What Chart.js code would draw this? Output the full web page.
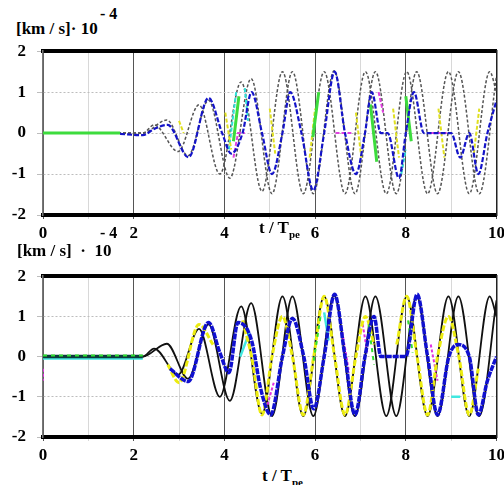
<!DOCTYPE html>
<html>
<head>
<meta charset="utf-8">
<script src="https://cdn.jsdelivr.net/npm/chart.js@4.4.0/dist/chart.umd.min.js"></script>
<style>
  body { margin: 0; background: #fff; width: 504px; height: 485px; position: relative; overflow: hidden;
         font-family: 'Liberation Serif', 'Times New Roman', 'DejaVu Serif', serif; font-weight: bold; color: #000; }
  canvas { position: absolute; left: 0; }
  .lbl { position: absolute; font-size: 17px; white-space: nowrap; }
  .sup { position: absolute; font-size: 16px; white-space: nowrap; }
  .sub { font-size: 11px; position: relative; top: 5px; }
</style>
</head>
<body>
<div class="lbl" style="left:16px; top:19px;">[km / s]· 10</div>
<div class="sup" style="left:100px; top:5px;">- 4</div>
<canvas id="topChart" width="509" height="210" style="top:30px"></canvas>
<div class="lbl" style="left:259px; top:218px;">t / T<span class="sub">pe</span></div>

<div class="lbl" style="left:17px; top:241px;">[km / s] &nbsp;· &nbsp;10</div>
<div class="sup" style="left:100px; top:224px;">- 4</div>
<canvas id="botChart" width="509" height="207" style="top:255px"></canvas>
<div class="lbl" style="left:262px; top:466px;">t / T<span class="sub">pe</span></div>

<script>
// x ticks (t / T_pe) and y ticks
const xTicks = [0, 2, 4, 6, 8, 10];
const yTicks = [-2, -1, 0, 1, 2];

// black curve A (both panels)
const blackA_t = [0, 2.2, 2.45, 2.98, 3.44, 3.9, 4.37, 4.83, 5.28, 5.74, 6.2, 6.66, 7.11, 7.57, 8.02, 8.48, 8.94, 9.4, 9.85, 10];
const blackA_v = [0, 0, 0.2, -0.45, 0.69, -1.0, 1.25, -1.42, 1.5, -1.48, 1.5, -1.48, 1.5, -1.48, 1.5, -1.48, 1.5, -1.48, 1.5, 1.0];
// black curve B (both panels)
const blackB_t = [0, 2.2, 2.73, 3.2, 3.65, 4.12, 4.59, 5.05, 5.5, 5.96, 6.42, 6.88, 7.33, 7.79, 8.24, 8.7, 9.16, 9.62, 10];
const blackB_v = [0, 0, 0.32, -0.55, 0.8, -1.1, 1.33, -1.48, 1.5, -1.48, 1.52, -1.48, 1.5, -1.48, 1.5, -1.48, 1.5, -1.48, 1.4];

// top panel coloured traces
const topBlue_t = [1.7, 2.2, 2.45, 2.75, 3.21, 3.65, 3.95, 4.15, 4.4, 4.6, 4.83, 5.05, 5.28, 5.45, 5.7, 5.96, 6.2, 6.43, 6.66, 6.9, 7.1, 7.25, 7.45, 7.6, 7.85, 8.0, 8.18, 8.4, 8.55, 9.0, 9.2, 9.4, 9.6, 9.8, 10];
const topBlue_v = [-0.02, -0.05, 0.1, 0.2, -0.59, 0.86, 0.0, -0.5, 0.0, 1.0, 0.0, -1.0, 0.0, 1.0, 0.0, -1.4, 0.0, 1.5, 0.0, -1.0, 0.0, 1.0, 0.0, 0.0, -1.1, 0.0, 1.0, 0.0, 0.0, 0.0, -0.6, 0.0, -1.0, 0.0, 0.8];
const topGreen_t = [0, 1.7, 1.8, 4.2, 4.32, 4.4, 5.95, 6.08, 6.15, 7.22, 7.36, 7.45, 8.0, 8.12];
const topGreen_v = [0, 0, null, -0.2, 0.9, null, -0.1, 1.0, null, 0.7, -0.7, null, 0.9, -0.2];
const topYellow_t = [3.0, 3.1, 3.2, 4.02, 4.15, 4.2, 5.0, 5.12, 5.2, 5.88, 6.0, 6.1, 6.9, 7.02, 7.1, 7.72, 7.85, 7.9, 8.72, 8.85, 8.9, 9.5, 9.62];
const topYellow_v = [0.3, 0.0, null, 0.5, -0.4, null, 0.6, -0.5, null, -0.6, 0.6, null, 0.5, -0.6, null, 0.6, -0.6, null, 0.6, -0.6, null, -0.5, 0.6];
const topCyan_t = [4.1, 4.26, 4.3, 4.45, 4.52, 4.6, 7.9, 8.0];
const topCyan_v = [-0.4, 1.0, null, 1.1, 0.3, null, -1.0, -0.4];
const topMagenta_t = [4.2, 4.3, 4.45, 4.5, 6.45, 6.8, 6.9, 7.4, 7.5, 7.6, 8.55, 9.0];
const topMagenta_v = [-0.6, 0.0, 0.0, null, 0.0, 0.0, null, 1.0, 0.5, null, 0.0, 0.0];

// bottom panel coloured traces
const botBlue_t = [2.8, 3.2, 3.65, 3.9, 4.1, 4.3, 4.6, 4.8, 5.02, 5.28, 5.5, 5.75, 5.97, 6.2, 6.43, 6.66, 6.88, 7.1, 7.3, 7.45, 8.0, 8.25, 8.48, 8.7, 8.95, 9.15, 9.4, 9.6, 9.8, 10];
const botBlue_v = [-0.3, -0.62, 0.85, 0.1, -0.4, 0.85, 0.4, -0.8, -1.45, 0.0, 0.95, 0.0, -1.3, 0.0, 1.55, 0.0, -1.45, 0.0, 1.0, 0.0, 0.0, 1.55, 0.0, -1.45, 0.0, 0.3, 0.0, -1.45, -0.6, 0.0];
const botFlat_t = [0, 2.2];
const botFlat_v = [0, 0];
const botYellow_t = [2.75, 3.0, 3.44, 3.75, 4.0, 4.4, 4.6, 4.83, 5.05, 5.28, 5.5, 5.74, 5.97, 6.2, 6.43, 6.66, 6.9, 7.11, 7.3, 7.5, 7.8, 8.02, 8.25, 8.48, 8.7, 8.94, 9.17, 9.4, 9.6];
const botYellow_v = [-0.2, -0.65, 0.8, 0.3, null, 0.9, 0.0, -1.45, 0.0, 1.0, 0.0, -1.45, 0.0, 1.5, 0.0, -1.45, 0.0, 1.0, 0.3, null, 0.3, 1.5, 0.0, -1.45, 0.0, 1.0, 0.0, -1.45, -0.3];
const botGreen_t = [0.0, 2.2, 2.3, 5.97, 6.12, 6.2, 7.18, 7.3, 7.4, 8.05, 8.15];
const botGreen_v = [0.03, 0.03, null, -0.1, 1.0, null, 0.8, -0.2, null, 0.9, 0.1];
const botCyan_t = [0.0, 2.2, 2.3, 4.35, 4.55, 4.6, 6.2, 6.3, 6.4, 9.0, 9.2];
const botCyan_v = [-0.05, -0.05, null, 0.0, 0.6, null, 1.1, 0.4, null, -1.0, -1.0];
const botMagenta_t = [0.0, 0.0, 0.05, 4.95, 5.1, 5.2, 6.6, 6.75, 6.85, 7.05, 7.15, 7.25, 8.55, 8.7];
const botMagenta_v = [-0.3, -0.6, null, -1.2, -0.6, null, 0.6, -0.4, null, 0.8, 0.1, null, 0.3, -0.6];

function pts(ts, vs) {
  return ts.map(function(t, i) { return { x: t, y: vs[i] }; });
}

const tickFont = { family: "'Liberation Serif', 'Times New Roman', 'DejaVu Serif', serif", size: 17, weight: 'bold' };

function line(ts, vs, color, width, dash, order, smooth) {
  return {
    data: pts(ts, vs),
    borderColor: color,
    borderWidth: width,
    borderDash: dash,
    pointRadius: 0,
    cubicInterpolationMode: smooth ? 'monotone' : 'default',
    tension: 0,
    order: order,
    spanGaps: false
  };
}

function panelOptions() {
  return {
    responsive: false,
    animation: false,
    layout: { padding: { top: 2, right: 0, left: 0, bottom: 0 } },
    plugins: { legend: { display: false }, tooltip: { enabled: false } },
    scales: {
      x: {
        type: 'linear', min: 0, max: 10,
        afterBuildTicks: function(s) { s.ticks = [0,1,2,3,4,5,6,7,8,9,10].map(function(v) { return { value: v }; }); },
        ticks: {
          font: tickFont, color: '#000', maxRotation: 0, autoSkip: false, padding: 4,
          callback: function(v) { return xTicks.indexOf(v) >= 0 ? v : ''; }
        },
        grid: {
          color: function(c) { return (c.tick && c.tick.value % 2 === 0) ? '#555' : '#d8d8d8'; },
          lineWidth: 1, tickLength: 4
        },
        border: { color: '#000', width: 4 },
        afterFit: function(s) { s.height = 25; }
      },
      xTop: {
        type: 'linear', position: 'top', min: 0, max: 10,
        ticks: { display: false }, grid: { display: false },
        border: { color: '#000', width: 4 },
        afterFit: function(s) { s.height = 0; }
      },
      y: {
        min: -2, max: 2,
        afterBuildTicks: function(s) { s.ticks = yTicks.map(function(v) { return { value: v }; }); },
        ticks: { font: tickFont, color: '#000', padding: 11 },
        grid: { color: '#bdbdbd', lineWidth: 1, tickLength: 6 },
        border: { color: '#777', width: 1.5, dash: [2, 2] },
        afterFit: function(s) { s.width = 43; }
      },
      yRight: {
        position: 'right', min: -2, max: 2,
        ticks: { display: false }, grid: { display: false },
        border: { color: '#222', width: 1.5 },
        afterFit: function(s) { s.width = 0; }
      }
    }
  };
}

new Chart(document.getElementById('topChart'), {
  type: 'line',
  data: {
    datasets: [
      line(blackA_t, blackA_v, '#555', 1.5, [3, 2], 10, true),
      line(blackB_t, blackB_v, '#555', 1.5, [3, 2], 10, true),
      line(topBlue_t, topBlue_v, '#1414c8', 2.2, [5, 2], 1, true),
      line(topGreen_t, topGreen_v, '#3ddc3d', 3, [], 3, false),
      line(topYellow_t, topYellow_v, '#e0e020', 2, [4, 2], 4, false),
      line(topCyan_t, topCyan_v, '#30e0d8', 2, [4, 2], 4, false),
      line(topMagenta_t, topMagenta_v, '#e040e0', 2, [4, 2], 4, false)
    ]
  },
  options: panelOptions()
});

new Chart(document.getElementById('botChart'), {
  type: 'line',
  data: {
    datasets: [
      line(blackA_t, blackA_v, '#111', 1.8, [], 10, true),
      line(blackB_t, blackB_v, '#111', 1.8, [], 10, true),
      line(botBlue_t, botBlue_v, '#1010d0', 3.5, [6, 1], 1, true),
      line(botFlat_t, botFlat_v, '#0c3c3c', 3.5, [], 2, false),
      line(botYellow_t, botYellow_v, '#ecec10', 3, [6, 2], 2, true),
      line(botGreen_t, botGreen_v, '#30e030', 2, [4, 4], 1, false),
      line(botCyan_t, botCyan_v, '#40e8e0', 2.5, [], 3, false),
      line(botMagenta_t, botMagenta_v, '#e030e0', 2, [3, 2], 4, false)
    ]
  },
  options: panelOptions()
});
</script>
</body>
</html>
